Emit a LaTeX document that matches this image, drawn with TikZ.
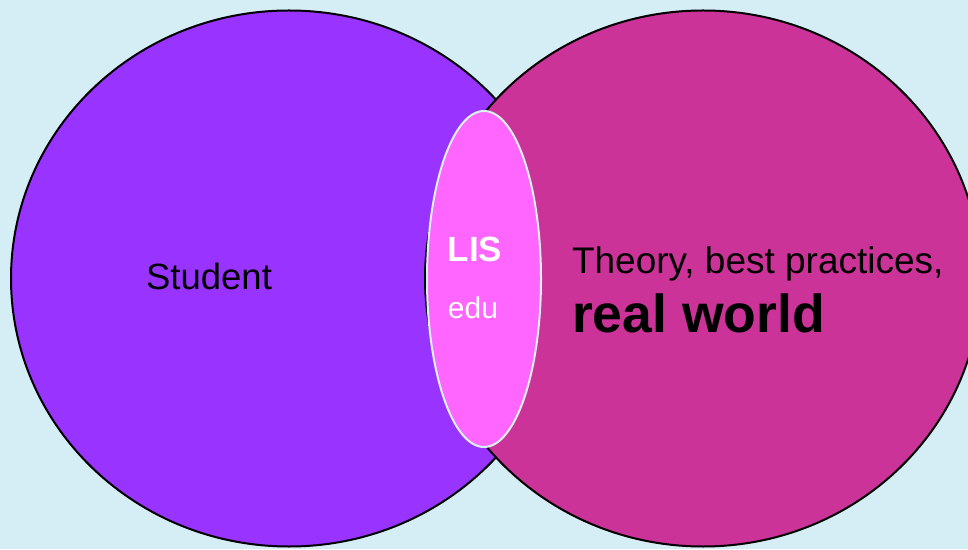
\documentclass[tikz,border=0pt]{standalone}
\usepackage{fontspec}
\setmainfont{Liberation Sans}
\definecolor{bgblue}{HTML}{D5EDF5}
\definecolor{studpurple}{HTML}{9933FF}
\definecolor{theorypink}{HTML}{CC3399}
\definecolor{lispink}{HTML}{FF66FF}
\definecolor{lisrim}{HTML}{D8F2F2}
\tikzset{
  label text/.style={inner sep=0pt, text=black},
  lis text/.style={inner sep=0pt, text=white},
}
\begin{document}
\begin{tikzpicture}[line width=2pt, x=1pt, y=1pt]
  \fill[bgblue] (0,0) rectangle (968,549);
  \clip (0,0) rectangle (968,549);
  % the two big sets
  \draw[fill=studpurple] (289,270.5) ellipse (278 and 268);
  \draw[fill=theorypink] (703,270.5) ellipse (278 and 268);
  % overlap
  \draw[draw=lisrim, fill=lispink] (484,270) ellipse (57 and 168);
  \node[label text, anchor=base] (student) at (209,259) {\fontsize{36.5}{40}\selectfont Student};
  \node[label text, anchor=base west] (theory) at (571,275) {\fontsize{37}{40}\selectfont Theory, best practices,};
  \node[label text, anchor=base west] (world) at (571,216) {\fontsize{53.5}{56}\selectfont\bfseries real world};
  \node[lis text, anchor=base] (lis) at (475,287) {\fontsize{35}{40}\selectfont\bfseries LIS};
  \node[lis text, anchor=base] (edu) at (473,230) {\fontsize{30}{34}\selectfont edu};
\end{tikzpicture}
\end{document}
